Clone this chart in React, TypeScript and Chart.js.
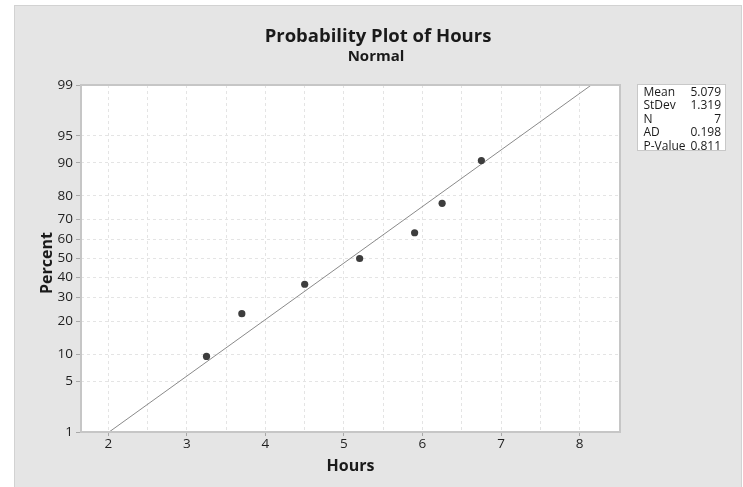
import React, { useEffect, useRef } from "react";
import { Chart, registerables } from "chart.js";

Chart.register(...registerables);

// ---- data ----
const hours = [3.25, 3.7, 4.5, 5.2, 5.9, 6.25, 6.75];
const percents = [9.46, 22.97, 36.49, 50, 63.51, 77.03, 90.54];
const fitLineHours = [2.01, 8.15];
const fitLinePercents = [1, 99];
const yTickPercents = [1, 5, 10, 20, 30, 40, 50, 60, 70, 80, 90, 95, 99];
const yTickLabels = ["1", "5", "10", "20", "30", "40", "50", "60", "70", "80", "90", "95", "99"];
const xGridValues = [2, 2.5, 3, 3.5, 4, 4.5, 5, 5.5, 6, 6.5, 7, 7.5, 8];
const xMin = 1.652;
const xMax = 8.515;
const yMinPercent = 1;
const yMaxPercent = 99;
const statLabels = ["Mean", "StDev", "N", "AD", "P-Value"];
const statValues = ["5.079", "1.319", "7", "0.198", "0.811"];
const titleText = "Probability Plot of Hours";
const subtitleText = "Normal";
const xTitle = "Hours";
const yTitle = "Percent";

const FONT = '"Open Sans", "Noto Sans", sans-serif';

// inverse standard normal CDF (Acklam)
function probit(p: number): number {
  const a = [-3.969683028665376e1, 2.209460984245205e2, -2.759285104469687e2, 1.38357751867269e2, -3.066479806614716e1, 2.506628277459239];
  const b = [-5.447609879822406e1, 1.615858368580409e2, -1.556989798598866e2, 6.680131188771972e1, -1.328068155288572e1];
  const c = [-7.784894002430293e-3, -3.223964580411365e-1, -2.400758277161838, -2.549732539343734, 4.374664141464968, 2.938163982698783];
  const d = [7.784695709041462e-3, 3.224671290700398e-1, 2.445134137142996, 3.754408661907416];
  const pl = 0.02425;
  let q: number, r: number;
  if (p < pl) {
    q = Math.sqrt(-2 * Math.log(p));
    return (((((c[0] * q + c[1]) * q + c[2]) * q + c[3]) * q + c[4]) * q + c[5]) / ((((d[0] * q + d[1]) * q + d[2]) * q + d[3]) * q + 1);
  }
  if (p > 1 - pl) {
    q = Math.sqrt(-2 * Math.log(1 - p));
    return -(((((c[0] * q + c[1]) * q + c[2]) * q + c[3]) * q + c[4]) * q + c[5]) / ((((d[0] * q + d[1]) * q + d[2]) * q + d[3]) * q + 1);
  }
  q = p - 0.5;
  r = q * q;
  return ((((((a[0] * r + a[1]) * r + a[2]) * r + a[3]) * r + a[4]) * r + a[5]) * q) / (((((b[0] * r + b[1]) * r + b[2]) * r + b[3]) * r + b[4]) * r + 1);
}
const z = (pct: number) => probit(pct / 100);

const decorPlugin = {
  id: "decor",
  beforeDraw(chart: any) {
    const { ctx, width, height, chartArea } = chart;
    ctx.save();
    ctx.fillStyle = "#ffffff";
    ctx.fillRect(0, 0, width, height);
    ctx.fillStyle = "#e5e5e5";
    ctx.fillRect(14, 5, 728, height - 5);
    ctx.strokeStyle = "#d2d2d2";
    ctx.lineWidth = 1;
    ctx.strokeRect(14.5, 5.5, 727, height);
    ctx.fillStyle = "#ffffff";
    ctx.fillRect(chartArea.left, chartArea.top, chartArea.right - chartArea.left, chartArea.bottom - chartArea.top);
    ctx.restore();
  },
  afterDraw(chart: any) {
    const { ctx, chartArea } = chart;
    ctx.save();
    // plot border
    ctx.strokeStyle = "#c6c6c6";
    ctx.lineWidth = 2;
    ctx.strokeRect(chartArea.left, chartArea.top, chartArea.right - chartArea.left, chartArea.bottom - chartArea.top);
    // titles
    ctx.fillStyle = "#1a1a1a";
    ctx.textAlign = "center";
    ctx.textBaseline = "alphabetic";
    ctx.font = `bold 18.5px ${FONT}`;
    ctx.fillText(titleText, 378, 42);
    ctx.font = `bold 15px ${FONT}`;
    ctx.fillText(subtitleText, 376, 61);
    ctx.font = `bold 16px ${FONT}`;
    ctx.fillText(xTitle, (chartArea.left + chartArea.right) / 2, 471);
    ctx.save();
    ctx.translate(51.5, 263);
    ctx.rotate(-Math.PI / 2);
    ctx.fillText(yTitle, 0, 0);
    ctx.restore();
    // stats box
    ctx.fillStyle = "#ffffff";
    ctx.fillRect(637, 84, 89, 67);
    ctx.strokeStyle = "#c8c8c8";
    ctx.lineWidth = 1;
    ctx.strokeRect(637.5, 84.5, 88, 66);
    ctx.fillStyle = "#1a1a1a";
    ctx.font = `12px ${FONT}`;
    ctx.textBaseline = "alphabetic";
    statLabels.forEach((lab, i) => {
      const y = 96 + i * 13.4;
      ctx.textAlign = "left";
      ctx.fillText(lab, 643.5, y);
      ctx.textAlign = "right";
      ctx.fillText(statValues[i], 721, y);
    });
    ctx.restore();
  },
};

export default function App() {
  const canvasRef = useRef<HTMLCanvasElement | null>(null);

  useEffect(() => {
    if (!canvasRef.current) return;
    const pointData = hours.map((h, i) => ({ x: h, y: z(percents[i]) }));
    const lineData = fitLineHours.map((h, i) => ({ x: h, y: z(fitLinePercents[i]) }));
    const chart = new Chart(canvasRef.current, {
      type: "scatter",
      data: {
        datasets: [
          {
            label: "Hours",
            data: pointData,
            pointRadius: 3.6,
            pointHoverRadius: 3.6,
            pointBackgroundColor: "#3d3d3d",
            pointBorderWidth: 0,
            borderColor: "#3d3d3d",
            order: 0,
          },
          {
            label: "Fit",
            data: lineData,
            showLine: true,
            pointRadius: 0,
            borderColor: "#8a8a8a",
            borderWidth: 1,
            order: 1,
          },
        ],
      },
      options: {
        responsive: false,
        animation: false,
        events: [],
        layout: { padding: { left: 0, right: 123, top: 85, bottom: 0 } },
        plugins: {
          legend: { display: false },
          tooltip: { enabled: false },
          title: { display: false },
        },
        scales: {
          x: {
            type: "linear",
            min: xMin,
            max: xMax,
            afterBuildTicks: (scale: any) => {
              scale.ticks = xGridValues.map((v) => ({ value: v }));
            },
            afterFit: (scale: any) => {
              scale.height = 55;
            },
            ticks: {
              autoSkip: false,
              maxRotation: 0,
              padding: 0,
              color: "#1f1f1f",
              font: { family: FONT, size: 13.5 },
              callback: (v: any) => (Number.isInteger(v) ? String(v) : ""),
            },
            grid: {
              color: "#e4e4e4",
              lineWidth: 1,
              tickLength: 4,
              tickBorderDash: [],
              tickColor: (ctx: any) => (ctx.tick && Number.isInteger(ctx.tick.value) ? "#a8a8a8" : "rgba(0,0,0,0)"),
            },
            border: { display: false, dash: [3, 3] },
          },
          y: {
            type: "linear",
            min: z(yMinPercent),
            max: z(yMaxPercent),
            afterBuildTicks: (scale: any) => {
              scale.ticks = yTickPercents.map((p) => ({ value: z(p) }));
            },
            afterFit: (scale: any) => {
              scale.width = 81;
            },
            ticks: {
              autoSkip: false,
              padding: 3,
              color: "#1f1f1f",
              font: { family: FONT, size: 13.5 },
              callback: (_v: any, i: number) => yTickLabels[i],
            },
            grid: {
              color: "#e4e4e4",
              lineWidth: 1,
              tickLength: 5,
              tickBorderDash: [],
              tickColor: "#a8a8a8",
            },
            border: { display: false, dash: [3, 3] },
          },
        },
      },
      plugins: [decorPlugin],
    });
    return () => chart.destroy();
  }, []);

  return (
    <div style={{ position: "absolute", left: 0, top: 0, width: 743, height: 487 }}>
      <canvas ref={canvasRef} width={743} height={487} style={{ display: "block" }} />
    </div>
  );
}
